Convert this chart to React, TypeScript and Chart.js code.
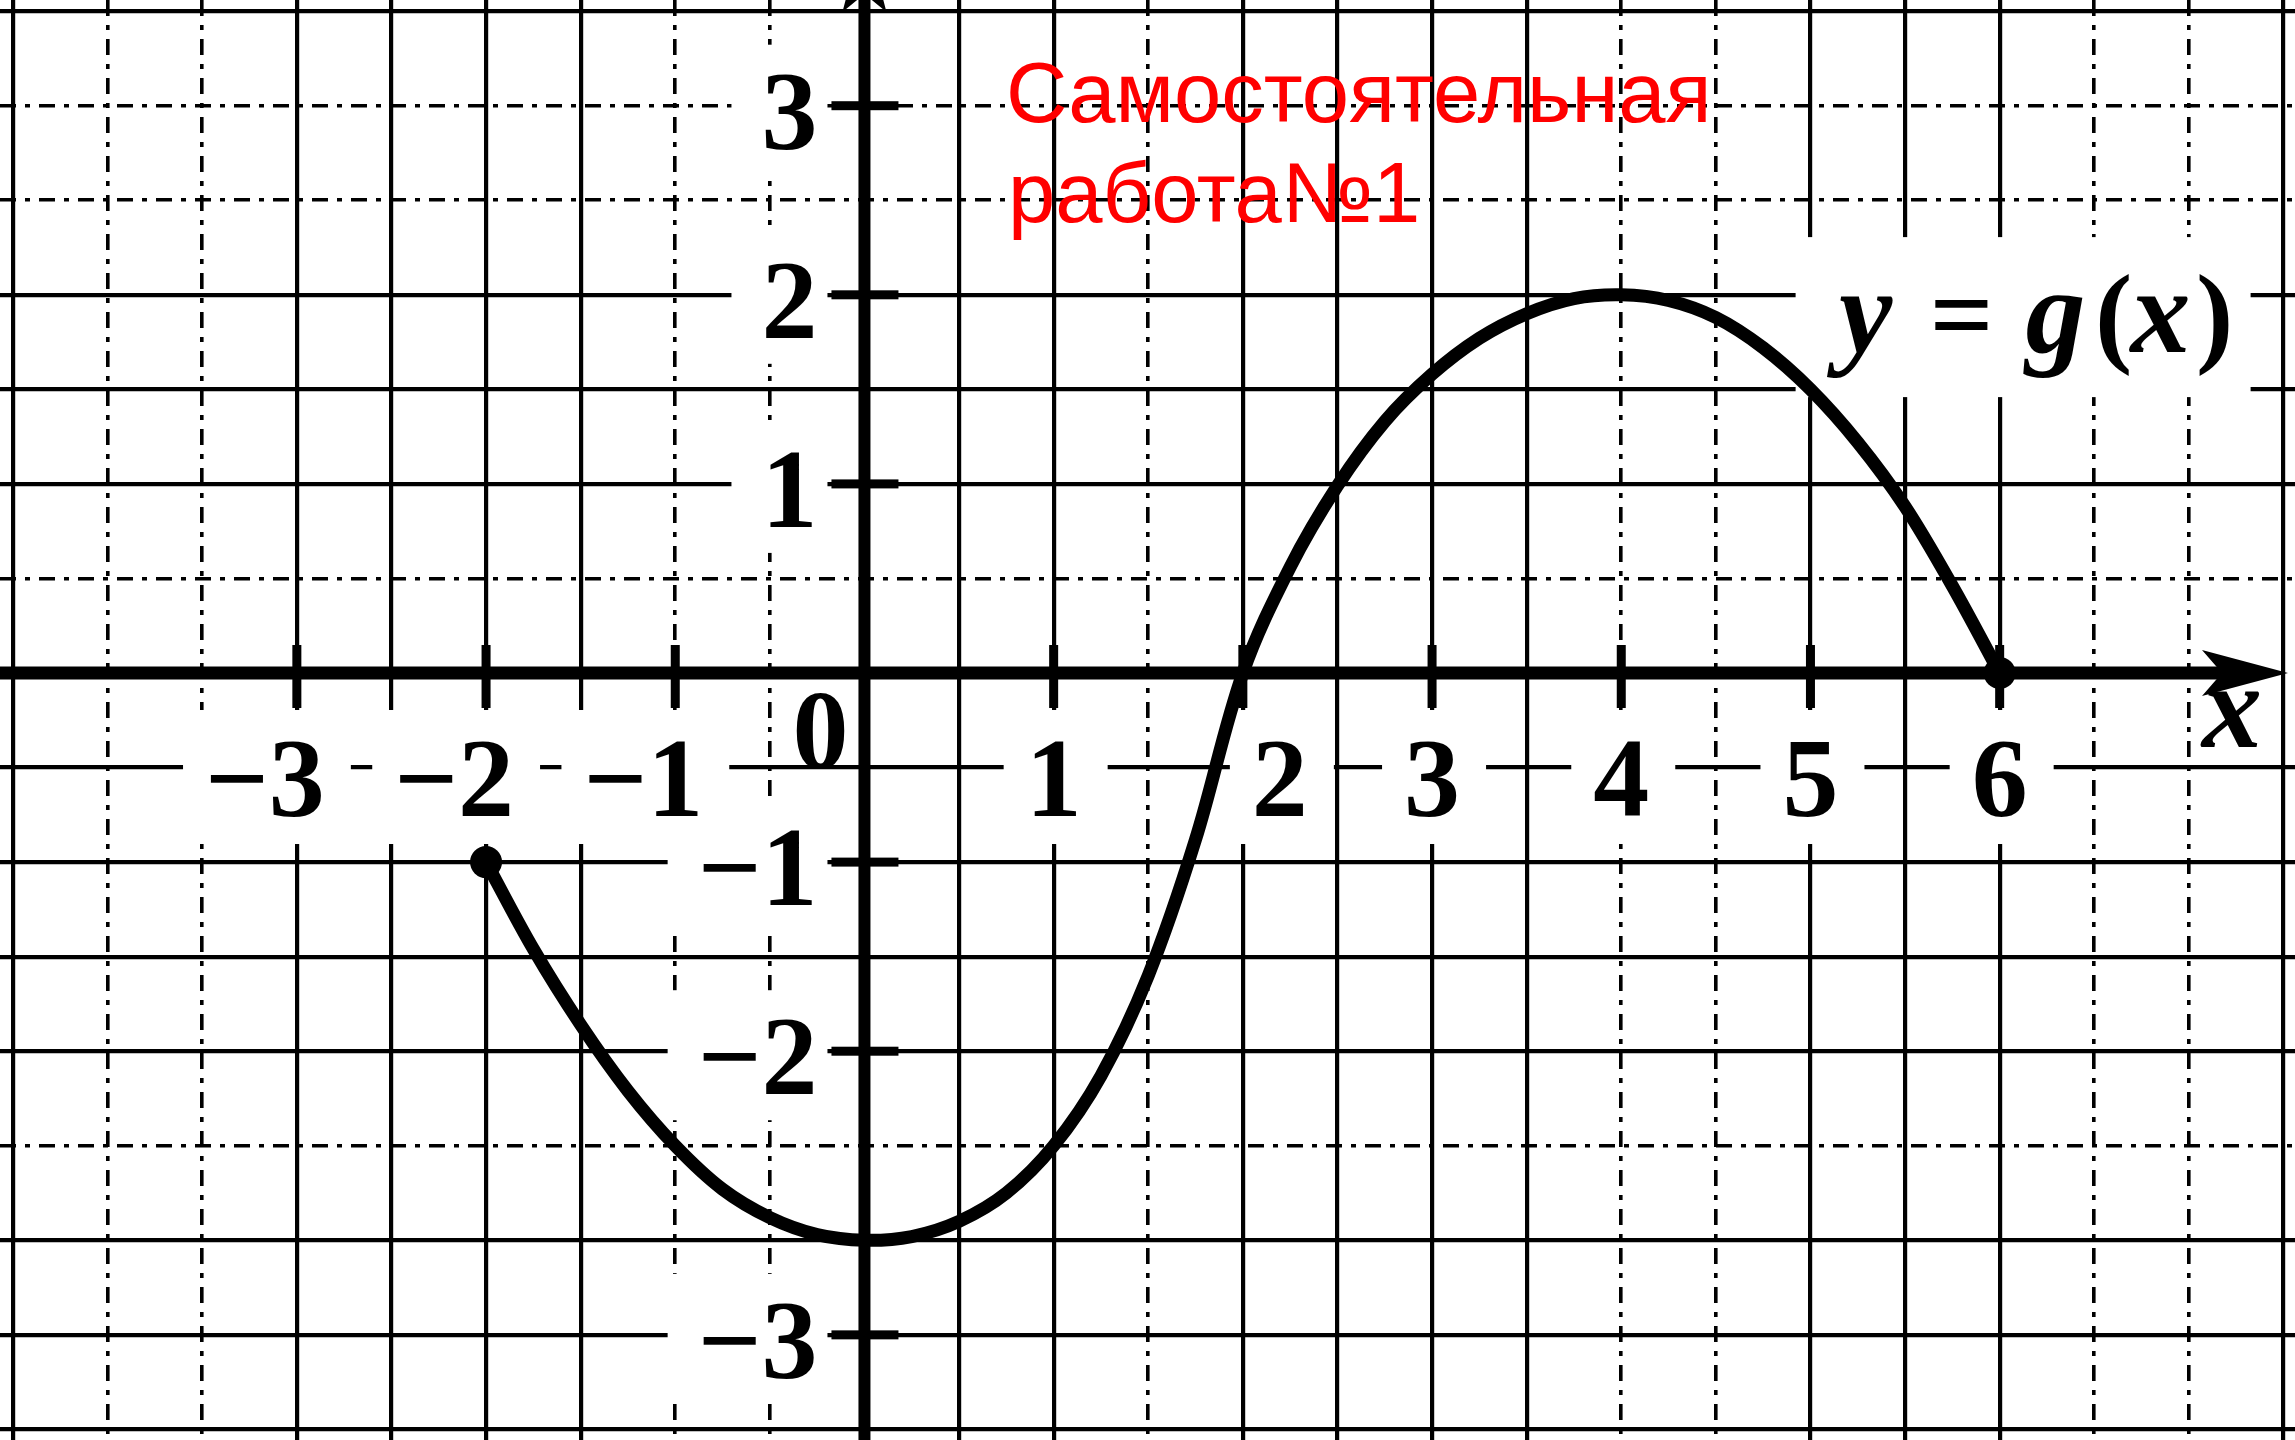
import React, { useEffect, useRef } from 'react';
import { Chart, registerables } from 'chart.js';

Chart.register(...registerables);

// ---- data ----
const CURVE_X = [-2, -1.75, -1.5, -1.25, -1, -0.75, -0.5, -0.25, 0, 0.25, 0.5, 0.75, 1, 1.25, 1.5, 1.75, 2, 2.25, 2.5, 2.75, 3, 3.25, 3.5, 3.75, 4, 4.25, 4.5, 4.75, 5, 5.25, 5.5, 5.75, 6];
const CURVE_Y = [-1, -1.46, -1.86, -2.21, -2.5, -2.73, -2.88, -2.97, -3, -2.98, -2.9, -2.75, -2.5, -2.13, -1.6, -0.88, 0, 0.56, 0.99, 1.33, 1.58, 1.77, 1.9, 1.98, 2, 1.97, 1.88, 1.72, 1.5, 1.22, 0.88, 0.46, 0];
const ENDPOINT_X = [-2, 6];
const ENDPOINT_Y = [-1, 0];

const X_TICK_VALUES = [-3, -2, -1, 1, 2, 3, 4, 5, 6];
const X_TICK_LABELS = ['−3', '−2', '−1', '1', '2', '3', '4', '5', '6'];
const Y_TICK_VALUES = [3, 2, 1, -1, -2, -3.5];
const Y_TICK_LABELS = ['3', '2', '1', '−1', '−2', '−3'];
const ORIGIN_LABEL = '0';

const X_GRID_SOLID = [-4.5, -3, -2.5, -2, -1.5, 0.5, 1, 2, 2.5, 3, 3.5, 5, 5.5, 6, 7.5];
const X_GRID_DASHED = [-4, -3.5, -1, -0.5, 1.5, 4, 4.5, 6.5, 7];
const Y_GRID_SOLID = [3.5, 2, 1.5, 1, -0.5, -1, -1.5, -2, -3, -3.5, -4];
const Y_GRID_DASHED = [3, 2.5, 0.5, -2.5];

const X_RANGE = [-4.569, 7.561];
const Y_RANGE = [-4.056, 3.559];

const FUNCTION_LABEL = [
  { t: 'y', italic: true },
  { t: '=', italic: false },
  { t: 'g', italic: true },
  { t: '(', italic: false },
  { t: 'x', italic: true },
  { t: ')', italic: false },
];
const AXIS_LABEL = 'x';
const TITLE_LINES = ['Самостоятельная', 'работа№1'];

// ---- styling ----
const NUM_FONT = "bold 112px 'Liberation Serif'";
const ITALIC_FONT = "italic bold 120px 'Liberation Serif'";
const TITLE_FONT = "85px 'Liberation Sans'";
const FUNC_GLYPH_OFFSETS = [-170, -74, 20, 78, 125, 179];

const decor = {
  id: 'decor',
  beforeDatasetsDraw(chart: any) {
    const { ctx } = chart;
    const xs = chart.scales.x;
    const ys = chart.scales.y;
    const px = (v: number) => xs.getPixelForValue(v);
    const py = (v: number) => ys.getPixelForValue(v);
    const x0 = px(0);
    const y0 = py(0);
    const W = chart.width;
    const H = chart.height;
    ctx.save();

    // white backdrops behind labels
    ctx.fillStyle = '#ffffff';
    ctx.font = NUM_FONT;
    X_TICK_VALUES.forEach((v, i) => {
      const t = X_TICK_LABELS[i];
      const digits = t.replace('−', '');
      const dw = ctx.measureText(digits).width;
      const fw = ctx.measureText(t).width;
      const cx = px(v) + (v === 2 ? 37 : 0);
      const right = cx + dw / 2;
      const base = y0 + 143;
      ctx.fillRect(right - fw - 22, base - 106, fw + 48, 134);
    });
    Y_TICK_VALUES.forEach((v, i) => {
      const t = Y_TICK_LABELS[i];
      const fw = ctx.measureText(t).width;
      const right = x0 - 47;
      const base = py(v) + 43;
      ctx.fillRect(right - fw - 30, base - 104, fw + 40, 130);
    });
    // backdrop behind y = g(x)
    const ax = px(6.19);
    const ay = py(1.697);
    ctx.fillRect(ax - 240, ay - 115, 455, 160);

    // axes
    ctx.fillStyle = '#000000';
    const arrowTip = W - 7;
    const arrowBack = arrowTip - 86;
    ctx.fillRect(0, y0 - 6.5, arrowBack + 20, 13);
    ctx.fillRect(x0 - 6, 0, 12, H);
    // axis tick marks
    X_TICK_VALUES.forEach((v) => ctx.fillRect(px(v) - 4.5, y0 - 28, 9, 63));
    Y_TICK_VALUES.forEach((v) => ctx.fillRect(x0 - 33, py(v) - 4.5, 67, 9));
    // arrow on x axis
    ctx.beginPath();
    ctx.moveTo(arrowTip, y0);
    ctx.lineTo(arrowBack, y0 - 23);
    ctx.lineTo(arrowBack + 20, y0);
    ctx.lineTo(arrowBack, y0 + 23);
    ctx.closePath();
    ctx.fill();
    // arrow on y axis (mostly above the picture)
    ctx.beginPath();
    ctx.moveTo(x0, -72);
    ctx.lineTo(x0 - 22, 12);
    ctx.lineTo(x0, -6);
    ctx.lineTo(x0 + 22, 12);
    ctx.closePath();
    ctx.fill();
    ctx.restore();
  },
  afterDatasetsDraw(chart: any) {
    const { ctx } = chart;
    const xs = chart.scales.x;
    const ys = chart.scales.y;
    const px = (v: number) => xs.getPixelForValue(v);
    const py = (v: number) => ys.getPixelForValue(v);
    const x0 = px(0);
    const y0 = py(0);
    ctx.save();
    ctx.fillStyle = '#000000';
    ctx.textBaseline = 'alphabetic';
    ctx.font = NUM_FONT;

    // x tick labels: digit centred on the tick, minus hanging left
    ctx.textAlign = 'right';
    X_TICK_VALUES.forEach((v, i) => {
      const t = X_TICK_LABELS[i];
      const digits = t.replace('−', '');
      const dw = ctx.measureText(digits).width;
      const cx = px(v) + (v === 2 ? 37 : 0);
      ctx.fillText(t, cx + dw / 2, y0 + 143);
    });
    // y tick labels
    Y_TICK_VALUES.forEach((v, i) => {
      ctx.fillText(Y_TICK_LABELS[i], x0 - 47, py(v) + 43);
    });
    // origin
    ctx.fillText(ORIGIN_LABEL, x0 - 16, y0 + 95);

    // axis name
    ctx.textAlign = 'center';
    ctx.font = ITALIC_FONT;
    ctx.fillText(AXIS_LABEL, chart.width - 63, y0 + 74);

    // y = g(x)
    const ax = px(6.19);
    const ay = py(1.697);
    FUNCTION_LABEL.forEach((g, i) => {
      ctx.font = g.italic ? ITALIC_FONT : NUM_FONT;
      ctx.fillText(g.t, ax + FUNC_GLYPH_OFFSETS[i], ay);
    });

    // red caption
    ctx.textAlign = 'left';
    ctx.font = TITLE_FONT;
    ctx.fillStyle = '#ff0000';
    ctx.fillText(TITLE_LINES[0], 1006, 122);
    ctx.fillText(TITLE_LINES[1], 1008, 222);
    ctx.restore();
  },
};

function gridScale(axis: 'x' | 'y', range: number[], values: number[], dashed: boolean) {
  return {
    type: 'linear',
    axis,
    position: axis === 'x' ? 'bottom' : 'left',
    min: range[0],
    max: range[1],
    bounds: 'data',
    display: true,
    ticks: { display: false },
    title: { display: false },
    grid: {
      display: true,
      drawTicks: false,
      color: '#000000',
      lineWidth: dashed ? 3.6 : 4.2,
    },
    border: { display: false, dash: dashed ? [16, 9, 5, 9] : [] },
    afterBuildTicks: (scale: any) => {
      scale.ticks = values.map((v) => ({ value: v }));
    },
  };
}

export default function App() {
  const ref = useRef<HTMLCanvasElement>(null);
  useEffect(() => {
    document.body.style.margin = '0';
    const canvas = ref.current;
    if (!canvas) return;
    const chart = new Chart(canvas, {
      type: 'line',
      data: {
        datasets: [
          {
            data: CURVE_X.map((x, i) => ({ x, y: CURVE_Y[i] })),
            borderColor: '#000000',
            borderWidth: 13,
            pointRadius: 0,
            pointHoverRadius: 0,
            cubicInterpolationMode: 'default',
            tension: 0.35,
            fill: false,
            borderCapStyle: 'round',
            borderJoinStyle: 'round',
            xAxisID: 'x',
            yAxisID: 'y',
          },
          {
            data: ENDPOINT_X.map((x, i) => ({ x, y: ENDPOINT_Y[i] })),
            showLine: false,
            pointRadius: 16,
            pointHoverRadius: 16,
            pointBackgroundColor: '#000000',
            pointBorderWidth: 0,
            borderColor: '#000000',
            xAxisID: 'x',
            yAxisID: 'y',
          },
        ],
      } as any,
      options: {
        animation: false,
        responsive: false,
        devicePixelRatio: 1,
        events: [],
        layout: { padding: 0, autoPadding: false },
        plugins: { legend: { display: false }, tooltip: { enabled: false }, title: { display: false } },
        scales: {
          x: gridScale('x', X_RANGE, X_GRID_SOLID, false),
          xDash: gridScale('x', X_RANGE, X_GRID_DASHED, true),
          y: gridScale('y', Y_RANGE, Y_GRID_SOLID, false),
          yDash: gridScale('y', Y_RANGE, Y_GRID_DASHED, true),
        },
      } as any,
      plugins: [decor],
    });
    return () => chart.destroy();
  }, []);
  return (
    <div style={{ position: 'fixed', left: 0, top: 0, width: 2295, height: 1440, background: '#ffffff', overflow: 'hidden' }}>
      <canvas ref={ref} width={2295} height={1440} style={{ display: 'block', width: 2295, height: 1440 }} />
    </div>
  );
}
